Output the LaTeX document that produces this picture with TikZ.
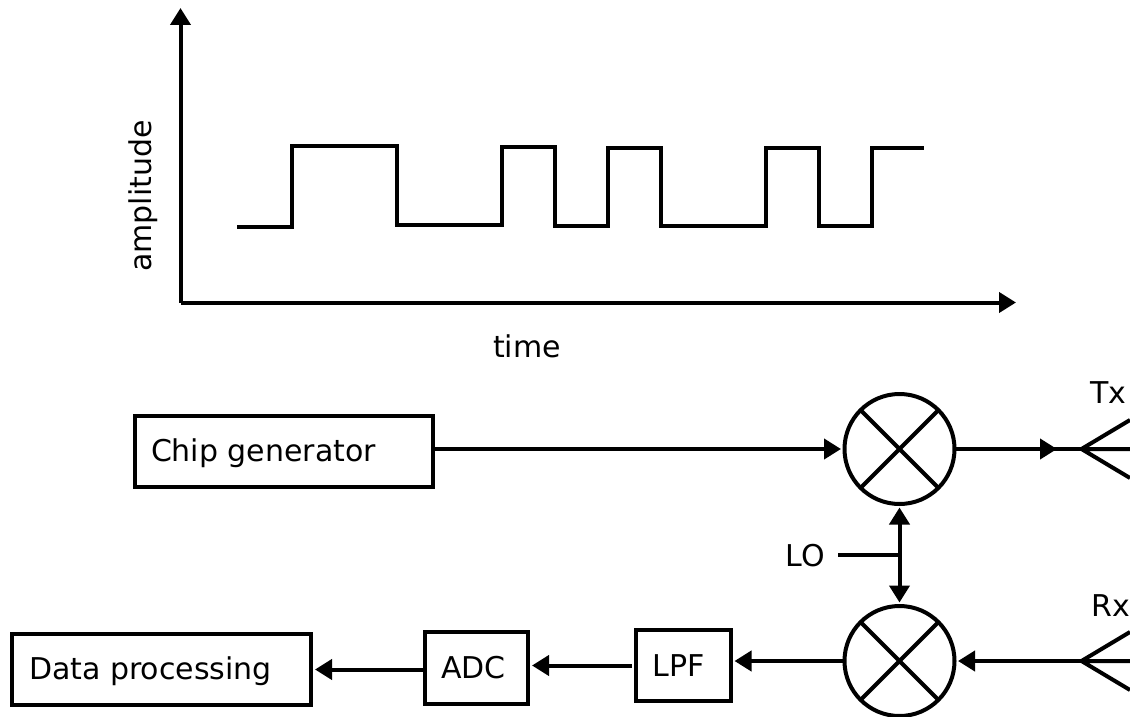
\documentclass[tikz,border=0pt]{standalone}
\usepackage{fontspec}
\setmainfont{DejaVu Sans}
\usetikzlibrary{arrows.meta}
\begin{document}
\begin{tikzpicture}[x=1pt,y=-1pt,
  ln/.style={line width=4pt,line join=miter},
  tip/.style={ln,-{Triangle[length=17pt,width=20pt]}},
  gap/.style={shorten >=3.5pt},
  stepbox/.style={draw,line width=4pt,inner sep=0pt,outer sep=0pt,minimum height=#1},
  lab/.style={font=\fontsize{30}{36}\selectfont,inner sep=0pt,outer sep=0pt},
  mixer/.style={draw,circle,line width=4pt,minimum size=110pt,inner sep=0pt,outer sep=0pt}]
\useasboundingbox (0,0) rectangle (1130,717);
\coordinate (org) at (180.5,302.5);
\coordinate (yend) at (180.5,8);
\coordinate (xend) at (1016,302.5);
\draw[tip] (org) -- (yend);
\draw[tip] (org) -- (xend);
\node[lab,rotate=90] (amp) at (143,196) {amplitude};
\node[lab] (time) at (527,346) {time};
\draw[ln] (237,227) -- (292,227) -- (292,146) -- (397,146) -- (397,225) -- (502,225) -- (502,147) -- (555,147) -- (555,226) -- (608,226) -- (608,148) -- (661,148) -- (661,226) -- (766,226) -- (766,148) -- (819,148) -- (819,226) -- (872,226) -- (872,148) -- (924,148);
\node[stepbox=71pt,minimum width=298pt] (chip) at (284,451.5) {};
\node[lab,anchor=base west] (chiplab) at (151,461) {Chip generator};
\node[stepbox=71pt,minimum width=299pt] (dp) at (161.5,669.5) {};
\node[lab,anchor=base west] (dplab) at (29,679) {Data processing};
\node[stepbox=72pt,minimum width=103pt] (adc) at (476.5,668) {};
\node[lab,anchor=base] (adclab) at (473.5,678) {ADC};
\node[stepbox=71pt,minimum width=95pt] (lpf) at (683.5,665.5) {};
\node[lab,anchor=base] (lpflab) at (678.5,676) {LPF};
\node[mixer] (m1) at (899.5,449) {};
\node[mixer] (m2) at (899.5,661) {};
\draw[ln] (m1.45) -- (m1.225) (m1.135) -- (m1.-45);
\draw[ln] (m2.45) -- (m2.225) (m2.135) -- (m2.-45);
\coordinate (tx) at (1081.5,449);
\coordinate (rx) at (1081.5,661);
\coordinate (txa) at (1130,420); \coordinate (txb) at (1130,478);
\coordinate (rxa) at (1130,632); \coordinate (rxb) at (1130,690);
\draw[ln] (txa) -- (tx) -- (txb) (tx) -- (1130,449);
\draw[ln] (rxa) -- (rx) -- (rxb) (rx) -- (1130,661);
\draw[tip,gap] (chip.east |- m1) -- (m1.west);
\draw[tip] (m1.east) -- (1057,449);
\draw[ln] (1050,449) -- (tx);
\node[lab,anchor=base] (txl) at (1108.5,403) {Tx};
\node[lab,anchor=base] (rxl) at (1110.5,616) {Rx};
\draw[tip,gap] (rx) -- (m2.east);
\draw[tip,gap] (m2.west) -- (m2.west -| lpf.east);
\draw[tip,shorten <=4pt,shorten >=4pt] (lpf.west) -- (lpf.west -| adc.east);
\draw[tip,shorten >=4pt] (adc.west |- dp) -- (dp.east);
\node[lab,anchor=base] (lo) at (805,566) {LO};
\coordinate (j) at (899.5,555);
\draw[ln] (838,555) -- (j);
\draw[tip,gap] (j) -- (m1.south);
\draw[tip,gap] (j) -- (m2.north);
\end{tikzpicture}
\end{document}
